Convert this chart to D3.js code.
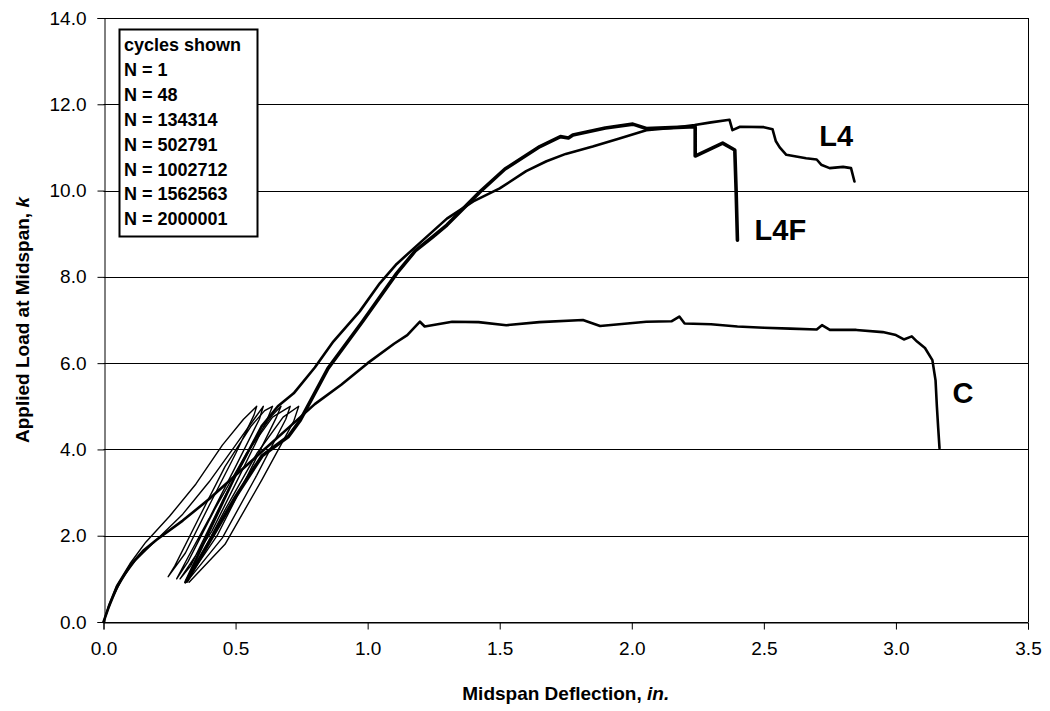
<!DOCTYPE html>
<html>
<head>
<meta charset="utf-8">
<script src="https://cdn.jsdelivr.net/npm/d3@7"></script>
<style>
  body { margin: 0; background: #fff; }
  svg { display: block; font-family: "Liberation Sans", Arial, sans-serif; }
</style>
</head>
<body>
<svg width="1050" height="711"></svg>
<script>
// --- data (deflection in., load k) ---
var xTicks = [0, 0.5, 1.0, 1.5, 2.0, 2.5, 3.0, 3.5];
var yTicks = [0, 2, 4, 6, 8, 10, 12, 14];

var legendLines = ["cycles shown", "N = 1", "N = 48", "N = 134314", "N = 502791",
                   "N = 1002712", "N = 1562563", "N = 2000001"];

// thin hysteresis loops, specimen A
var cyclesA = [[0,0],[0.02,0.4],[0.05,0.85],[0.1,1.35],[0.16,1.85],[0.25,2.45],[0.35,3.2],
  [0.45,4.1],[0.53,4.7],[0.58,5.0],[0.57,4.8],[0.5,3.9],[0.4,2.7],[0.31,1.6],[0.245,1.05],
  [0.27,1.3],[0.36,2.4],[0.46,3.6],[0.56,4.55],[0.61,4.9],[0.64,5.0],[0.62,4.7],[0.52,3.45],
  [0.41,2.1],[0.29,1.0],[0.33,1.3],[0.45,2.8],[0.57,4.2],[0.64,4.8],[0.672,5.0],[0.655,4.75],
  [0.55,3.45],[0.43,2.0],[0.31,0.92]];

// thin hysteresis loops, specimen B
var cyclesB = [[0,0],[0.03,0.5],[0.07,1.0],[0.12,1.42],[0.2,1.9],[0.3,2.5],[0.4,3.25],
  [0.5,4.1],[0.57,4.7],[0.605,5.0],[0.59,4.7],[0.5,3.6],[0.4,2.4],[0.32,1.5],[0.277,1.0],
  [0.32,1.4],[0.42,2.6],[0.54,3.9],[0.64,4.75],[0.707,5.0],[0.69,4.7],[0.58,3.4],[0.45,1.95],
  [0.315,0.93],[0.34,1.2],[0.46,2.6],[0.58,3.9],[0.68,4.75],[0.739,5.0],[0.72,4.65],[0.6,3.3],
  [0.46,1.8],[0.324,0.92]];

var l4 = [[0.31,0.92],[0.4,2.1],[0.5,3.4],[0.6,4.55],[0.66,5.0],[0.72,5.3],[0.8,5.9],
  [0.87,6.5],[0.97,7.2],[1.046,7.85],[1.11,8.3],[1.2,8.8],[1.3,9.35],[1.4,9.75],[1.5,10.05],
  [1.6,10.45],[1.677,10.68],[1.75,10.85],[1.852,11.02],[1.95,11.2],[2.055,11.4],[2.15,11.45],
  [2.238,11.52],[2.3,11.58],[2.37,11.64],[2.381,11.4],[2.41,11.48],[2.5,11.47],[2.533,11.42],
  [2.545,11.15],[2.56,11.0],[2.585,10.83],[2.66,10.75],[2.7,10.72],[2.717,10.6],[2.749,10.52],
  [2.8,10.55],[2.83,10.52],[2.843,10.21]];

var l4f = [[0.315,0.95],[0.4,1.85],[0.5,2.9],[0.6,3.85],[0.7,4.3],[0.745,4.68],[0.85,5.88],
  [0.98,6.96],[1.11,8.08],[1.18,8.6],[1.247,8.93],[1.3,9.2],[1.425,9.97],[1.52,10.5],
  [1.652,11.02],[1.73,11.25],[1.76,11.22],[1.777,11.29],[1.9,11.45],[2.004,11.54],[2.055,11.44],
  [2.15,11.46],[2.24,11.48],[2.24,10.8],[2.344,11.1],[2.39,10.94],[2.395,10.0],[2.40,8.85]];

var control = [[0,0],[0.02,0.35],[0.05,0.8],[0.1,1.3],[0.15,1.65],[0.2,1.9],[0.3,2.35],
  [0.4,2.85],[0.5,3.4],[0.6,3.95],[0.7,4.5],[0.8,5.05],[0.9,5.5],[1.0,6.0],[1.1,6.45],
  [1.15,6.65],[1.198,6.96],[1.216,6.85],[1.32,6.96],[1.42,6.95],[1.525,6.88],[1.65,6.95],
  [1.815,7.0],[1.88,6.86],[2.055,6.96],[2.15,6.97],[2.18,7.08],[2.2,6.92],[2.3,6.9],[2.4,6.85],
  [2.5,6.82],[2.6,6.8],[2.7,6.78],[2.72,6.88],[2.75,6.77],[2.85,6.77],[2.95,6.72],[3.0,6.65],
  [3.03,6.55],[3.06,6.62],[3.08,6.5],[3.11,6.35],[3.138,6.07],[3.15,5.6],[3.155,5.0],
  [3.16,4.5],[3.165,4.03]];

var curveLabels = [
  {text: "L4",  x: 2.71,  y: 11.03},
  {text: "L4F", x: 2.465, y: 8.85},
  {text: "C",   x: 3.214, y: 5.08}
];

var series = [
  {data: cyclesA, width: 1.4},
  {data: cyclesB, width: 1.4},
  {data: control, width: 2.6},
  {data: l4, width: 2.6},
  {data: l4f, width: 3.6}
];

// --- layout ---
var svg = d3.select("svg");
var plotL = 103.5, plotR = 1028, plotT = 18, plotB = 622;

var x = d3.scaleLinear().domain([0, 3.5]).range([plotL, plotR]);
var y = d3.scaleLinear().domain([0, 14]).range([plotB, plotT]);

// grid lines
svg.append("g")
  .selectAll("line")
  .data(yTicks)
  .enter().append("line")
    .attr("x1", plotL).attr("x2", plotR)
    .attr("y1", function(d) { return Math.round(y(d)) + 0.5; })
    .attr("y2", function(d) { return Math.round(y(d)) + 0.5; })
    .attr("stroke", "#000")
    .attr("stroke-width", 1);

// right border
svg.append("line")
  .attr("x1", Math.round(plotR) + 0.5).attr("x2", Math.round(plotR) + 0.5)
  .attr("y1", y(14)).attr("y2", y(0))
  .attr("stroke", "#000");

// axes
var xAxis = svg.append("g")
  .attr("transform", "translate(0," + (Math.round(plotB) + 0.5) + ")")
  .call(d3.axisBottom(x).tickValues(xTicks).tickFormat(d3.format(".1f")).tickSize(7).tickPadding(12));

var yAxis = svg.append("g")
  .attr("transform", "translate(" + (Math.round(plotL) + 0.5) + ",0)")
  .call(d3.axisLeft(y).tickValues(yTicks).tickFormat(d3.format(".1f")).tickSize(7).tickPadding(11));

[xAxis, yAxis].forEach(function(ax) {
  ax.select(".domain").attr("stroke", "#000");
  ax.selectAll(".tick line").attr("stroke", "#000");
  ax.selectAll(".tick text")
    .attr("fill", "#000")
    .style("font-family", "'Liberation Sans', Arial, sans-serif")
    .style("font-size", "19px");
});

// curves
var line = d3.line()
  .x(function(d) { return x(d[0]); })
  .y(function(d) { return y(d[1]); });

svg.append("g")
  .selectAll("path")
  .data(series)
  .enter().append("path")
    .attr("d", function(d) { return line(d.data); })
    .attr("fill", "none")
    .attr("stroke", "#000")
    .attr("stroke-width", function(d) { return d.width; })
    .attr("stroke-linejoin", "round")
    .attr("stroke-linecap", "round");

// curve labels
svg.append("g")
  .selectAll("text")
  .data(curveLabels)
  .enter().append("text")
    .attr("x", function(d) { return x(d.x); })
    .attr("y", function(d) { return y(d.y); })
    .attr("font-size", 29)
    .attr("font-weight", "bold")
    .text(function(d) { return d.text; });

// legend box
var legend = svg.append("g");
legend.append("rect")
  .attr("x", 119.5).attr("y", 29.5)
  .attr("width", 138).attr("height", 207)
  .attr("fill", "#fff")
  .attr("stroke", "#000")
  .attr("stroke-width", 2);

legend.selectAll("text")
  .data(legendLines)
  .enter().append("text")
    .attr("x", 124)
    .attr("y", function(d, i) { return 51 + i * 24.9; })
    .attr("font-size", 18)
    .attr("font-weight", "bold")
    .text(function(d) { return d; });

// axis titles
var xt = svg.append("text")
  .attr("x", (plotL + plotR) / 2)
  .attr("y", 700)
  .attr("text-anchor", "middle")
  .attr("font-size", 19)
  .attr("font-weight", "bold");
xt.append("tspan").text("Midspan Deflection, ");
xt.append("tspan").attr("font-style", "italic").text("in.");

var yt = svg.append("text")
  .attr("transform", "translate(29," + ((plotT + plotB) / 2) + ") rotate(-90)")
  .attr("text-anchor", "middle")
  .attr("font-size", 19)
  .attr("font-weight", "bold");
yt.append("tspan").text("Applied Load at Midspan, ");
yt.append("tspan").attr("font-style", "italic").text("k");
</script>
</body>
</html>
